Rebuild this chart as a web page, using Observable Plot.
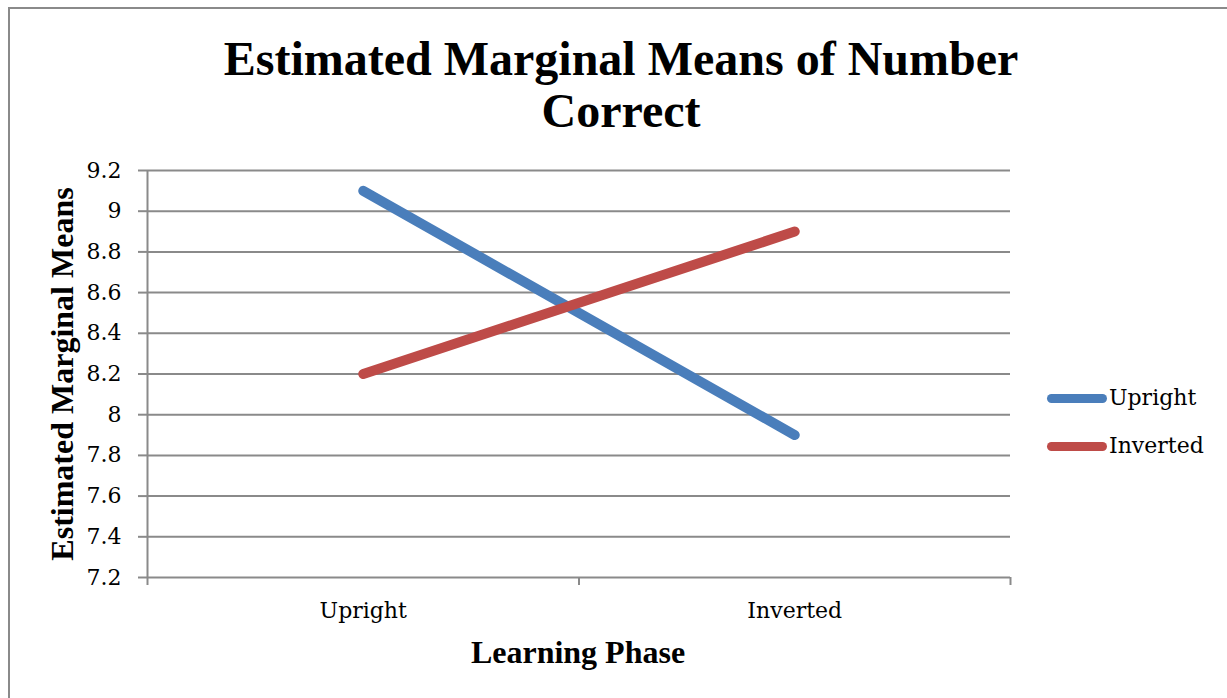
<!DOCTYPE html>
<html>
<head>
<meta charset="utf-8">
<script src="https://cdn.jsdelivr.net/npm/d3@7"></script>
<script src="https://cdn.jsdelivr.net/npm/@observablehq/plot@0.6"></script>
<style>
  html, body { margin: 0; padding: 0; background: #fff; overflow: hidden; width: 1227px; height: 698px; }
  #wrap { position: relative; width: 1227px; height: 698px; }
  #frame { position: absolute; left: 8px; top: 7px; width: 1300px; height: 800px; border: 2px solid #8a8a8a; box-sizing: border-box; }
  #chart { position: absolute; left: 0; top: 0; }
  .title { position: absolute; left: 0; top: 33px; width: 1242px; text-align: center; font: bold 48px/52px "Liberation Serif", "Times New Roman", serif; color: #000; }
  .axtitle { position: absolute; width: 500px; height: 32px; text-align: center; font: bold 32px/32px "Liberation Serif", "Times New Roman", serif; color: #000; white-space: nowrap; }
  .legend-item { position: absolute; left: 1047px; height: 22px; display: flex; align-items: center; font: 22px/22px "DejaVu Serif", serif; color: #000; white-space: nowrap; }
  .swatch { width: 60px; height: 9px; border-radius: 4.5px; margin-right: 2px; }
</style>
</head>
<body>
<div id="wrap">
  <div id="frame"></div>
  <div id="chart"></div>
</div>
<script>
// ---- Data ----
const phases = ["Upright", "Inverted"];            // x categories (Learning Phase)
const seriesNames = ["Upright", "Inverted"];       // legend series
const uprightValues = [9.1, 7.9];
const invertedValues = [8.2, 8.9];
const yTicks = [7.2, 7.4, 7.6, 7.8, 8, 8.2, 8.4, 8.6, 8.8, 9, 9.2];
const yTickLabels = ["7.2", "7.4", "7.6", "7.8", "8", "8.2", "8.4", "8.6", "8.8", "9", "9.2"];
const seriesColors = ["#4A7EBB", "#BE4B48"];
const titleLines = ["Estimated Marginal Means of Number", "Correct"];
const xTitle = "Learning Phase";
const yTitle = "Estimated Marginal Means";

// ---- Build table ----
const seriesValues = [uprightValues, invertedValues];
const rows = [];
seriesNames.forEach((s, si) => {
  phases.forEach((p, pi) => {
    rows.push({series: s, idx: pi + 0.5, phase: p, value: seriesValues[si][pi]});
  });
});
const boundaries = d3.range(phases.length + 1);
const centers = phases.map((_, i) => i + 0.5);
const gridColor = "#8a8a8a";

const chart = Plot.plot({
  width: 1227,
  height: 698,
  marginLeft: 147,
  marginRight: 217,
  marginTop: 170,
  marginBottom: 121,
  style: {fontFamily: "DejaVu Serif, serif", fontSize: "22px", color: "#000", background: "transparent"},
  x: {type: "linear", domain: [0, phases.length]},
  y: {domain: [yTicks[0], yTicks[yTicks.length - 1]]},
  color: {domain: seriesNames, range: seriesColors},
  marks: [
    Plot.gridY(yTicks, {stroke: gridColor, strokeOpacity: 1, strokeWidth: 2}),
    Plot.ruleX([0], {y1: yTicks[0], y2: yTicks[yTicks.length - 1], stroke: gridColor, strokeWidth: 2}),
    Plot.axisY({ticks: yTicks, tickFormat: (d, i) => yTickLabels[i], tickSize: 9, tickPadding: 17, stroke: gridColor, strokeWidth: 2, label: null, fill: "#000"}),
    Plot.axisX({ticks: boundaries, tickFormat: () => "", tickSize: 8, stroke: gridColor, strokeWidth: 2, label: null}),
    Plot.axisX({ticks: centers, tickFormat: (d, i) => phases[i], tickSize: 0, tickPadding: 25, label: null, fill: "#000"}),
    Plot.line(rows, {x: "idx", y: "value", z: "series", stroke: "series", strokeWidth: 10, strokeLinecap: "round", strokeLinejoin: "round"})
  ]
});
document.getElementById("chart").appendChild(chart);

// ---- Title, axis titles, legend (HTML) ----
const wrap = document.getElementById("wrap");
const t = document.createElement("div");
t.className = "title";
t.innerHTML = titleLines.join("<br>");
wrap.appendChild(t);

const xt = document.createElement("div");
xt.className = "axtitle";
xt.textContent = xTitle;
xt.style.left = (578 - 250) + "px";
xt.style.top = "636px";
wrap.appendChild(xt);

const yt = document.createElement("div");
yt.className = "axtitle";
yt.textContent = yTitle;
yt.style.left = (62.2 - 250) + "px";
yt.style.top = (374 - 16) + "px";
yt.style.transform = "rotate(-90deg)";
wrap.appendChild(yt);

const legendTops = [387, 435];
seriesNames.forEach((s, i) => {
  const item = document.createElement("div");
  item.className = "legend-item";
  item.style.top = legendTops[i] + "px";
  const sw = document.createElement("span");
  sw.className = "swatch";
  sw.style.background = seriesColors[i];
  item.appendChild(sw);
  item.appendChild(document.createTextNode(s));
  wrap.appendChild(item);
});
</script>
</body>
</html>
